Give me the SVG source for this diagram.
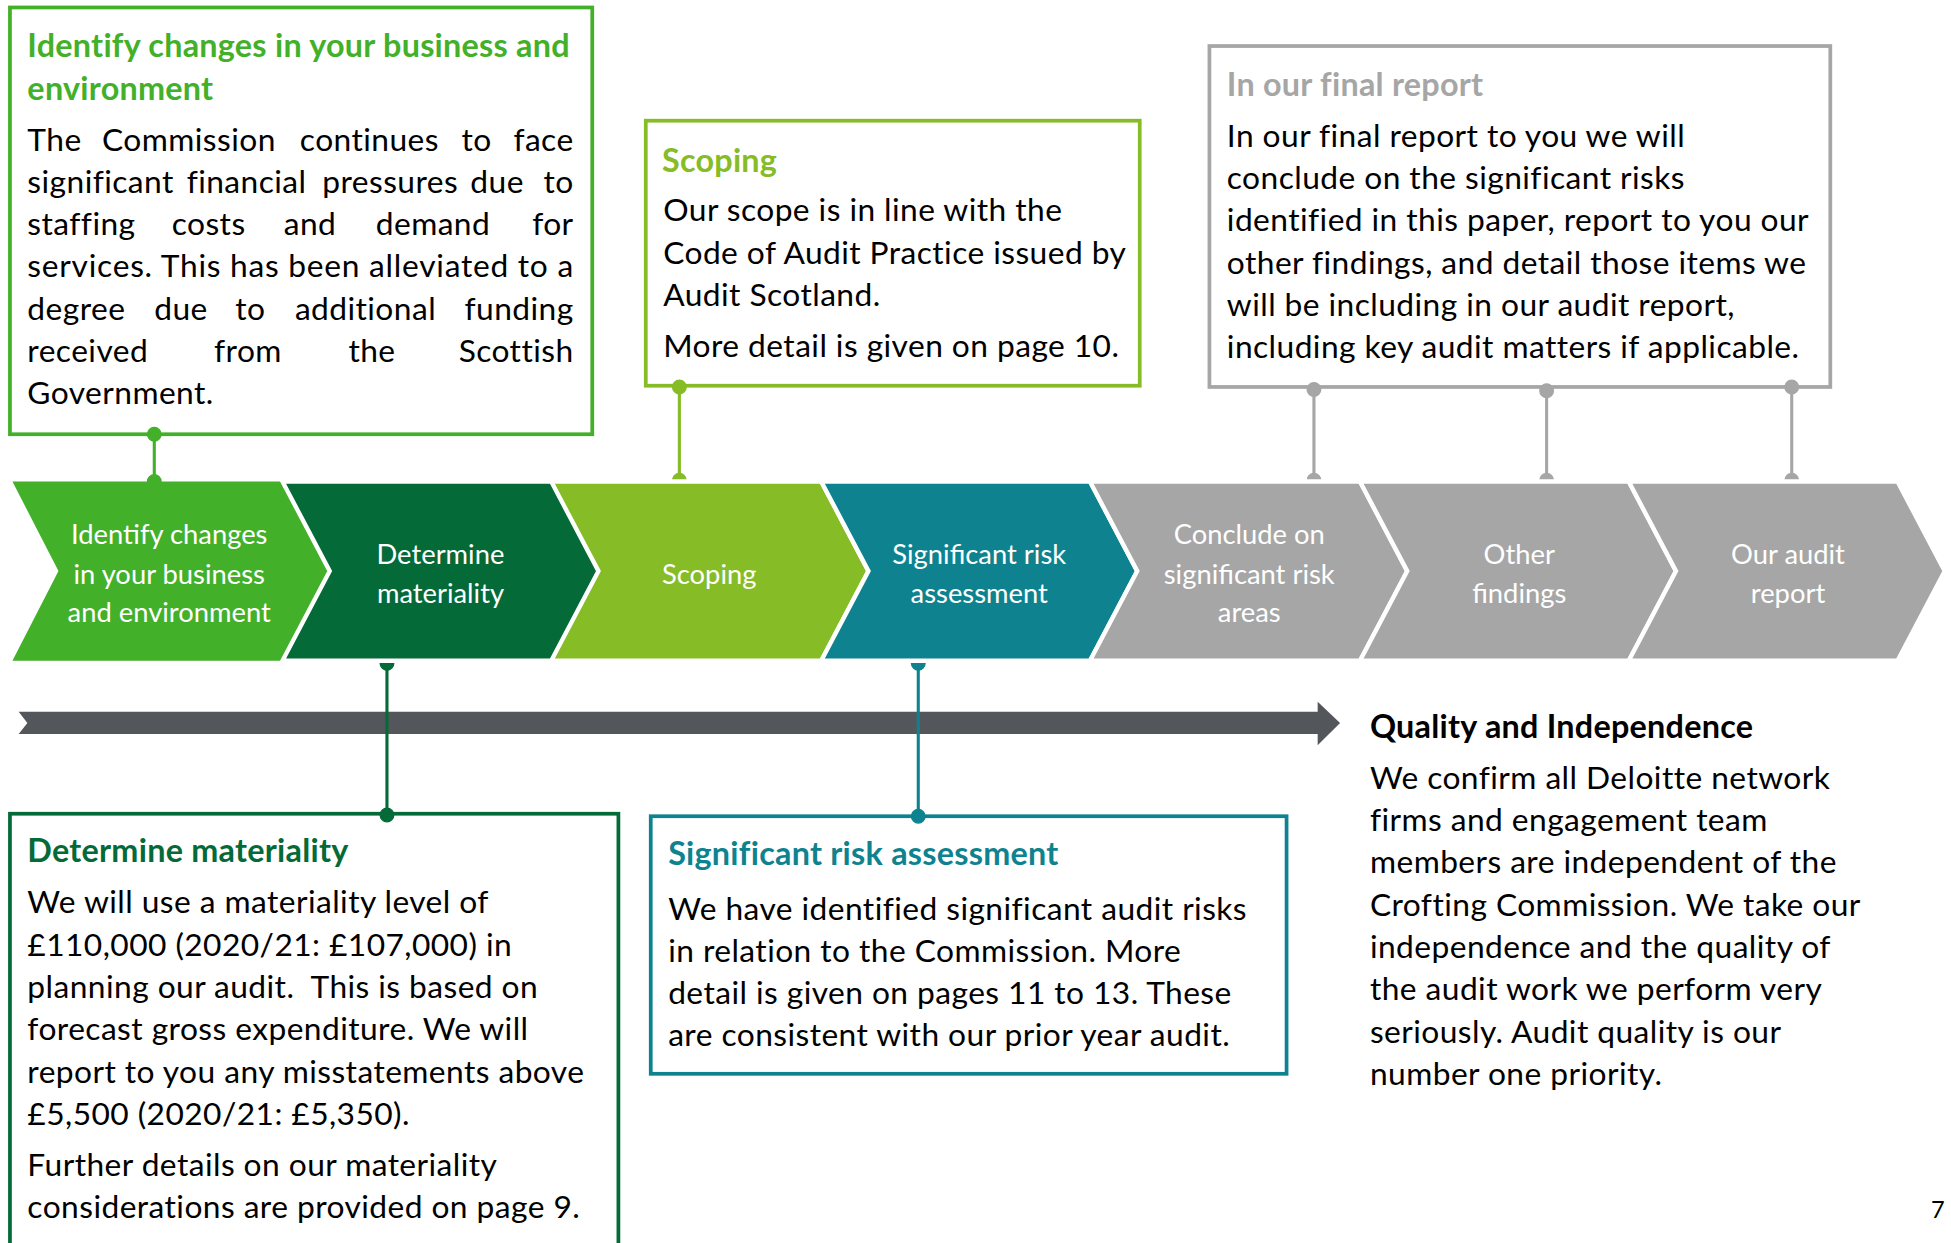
<svg xmlns="http://www.w3.org/2000/svg" width="1951" height="1243" viewBox="0 0 1951 1243">
<style>
text{font-family:Lato,"Liberation Sans",sans-serif;stroke:none}
.b{font-size:25.5px;letter-spacing:0.35px;fill:#000}
.h{font-size:26px;letter-spacing:0.2px;font-weight:bold}
.c{font-size:22px;fill:#fff;text-anchor:middle}
.e{text-anchor:end}
.box{fill:#fff;stroke-width:3}
.ln{stroke-width:2.5;fill:none}
</style>
<rect width="1951" height="1243" fill="#fff"/>
<g transform="scale(1.24426)">
<g id="timeline-arrow">
<polygon points="15,572 1059,572 1059,564 1077,581 1059,599 1059,590 15,590 22,581" fill="#53565A"/>
</g>
<g id="box-identify">
<rect class="box" x="8" y="6" width="468" height="343" stroke="#43B02A"/>
<text class="h" fill="#43B02A"><tspan x="22" y="46">Identify changes in your business and</tspan><tspan x="22" y="80">environment</tspan></text>
<text class="b" y="121"><tspan x="22">The</tspan><tspan x="82">Commission</tspan><tspan x="241">continues</tspan><tspan x="371">to</tspan><tspan x="461" class="e">face</tspan></text>
<text class="b" y="155"><tspan x="22">significant</tspan><tspan x="150">financial</tspan><tspan x="259">pressures</tspan><tspan x="378">due</tspan><tspan x="461" class="e">to</tspan></text>
<text class="b" y="189"><tspan x="22">staffing</tspan><tspan x="138">costs</tspan><tspan x="228">and</tspan><tspan x="302">demand</tspan><tspan x="461" class="e">for</tspan></text>
<text class="b" x="22" y="223" textLength="439" lengthAdjust="spacing">services. This has been alleviated to a</text>
<text class="b" y="257"><tspan x="22">degree</tspan><tspan x="124">due</tspan><tspan x="189">to</tspan><tspan x="237">additional</tspan><tspan x="461" class="e">funding</tspan></text>
<text class="b" y="291"><tspan x="22">received</tspan><tspan x="172">from</tspan><tspan x="280">the</tspan><tspan x="461" class="e">Scottish</tspan></text>
<text class="b" x="22" y="325">Government.</text>
</g>
<g id="box-scoping">
<rect class="box" x="519" y="97" width="397" height="213" stroke="#86BC25"/>
<text class="h" x="532" y="138" fill="#86BC25">Scoping</text>
<text class="b"><tspan x="533" y="178">Our scope is in line with the</tspan><tspan x="533" y="212">Code of Audit Practice issued by</tspan><tspan x="533" y="246">Audit Scotland.</tspan><tspan x="533" y="287">More detail is given on page 10.</tspan></text>
</g>
<g id="box-final-report">
<rect class="box" x="972" y="37" width="499" height="274" stroke="#A6A6A6"/>
<text class="h" x="986" y="77" fill="#A6A6A6">In our final report</text>
<text class="b"><tspan x="986" y="118">In our final report to you we will</tspan><tspan x="986" y="152">conclude on the significant risks</tspan><tspan x="986" y="186">identified in this paper, report to you our</tspan><tspan x="986" y="220">other findings, and detail those items we</tspan><tspan x="986" y="254">will be including in our audit report,</tspan><tspan x="986" y="288">including key audit matters if applicable.</tspan></text>
</g>
<g id="box-materiality">
<rect class="box" x="8" y="654" width="489" height="420" stroke="#046A38"/>
<text class="h" x="22" y="693" fill="#046A38">Determine materiality</text>
<text class="b"><tspan x="22" y="734">We will use a materiality level of</tspan><tspan x="22" y="768">£110,000 (2020/21: £107,000) in</tspan><tspan x="22" y="802">planning our audit.&#160; This is based on</tspan><tspan x="22" y="836">forecast gross expenditure. We will</tspan><tspan x="22" y="870">report to you any misstatements above</tspan><tspan x="22" y="904">£5,500 (2020/21: £5,350).</tspan><tspan x="22" y="945">Further details on our materiality</tspan><tspan x="22" y="979">considerations are provided on page 9.</tspan></text>
</g>
<g id="box-risk">
<rect class="box" x="523" y="656" width="511" height="207" stroke="#0E838F"/>
<text class="h" x="537" y="695" fill="#0E838F">Significant risk assessment</text>
<text class="b"><tspan x="537" y="739">We have identified significant audit risks</tspan><tspan x="537" y="773">in relation to the Commission. More</tspan><tspan x="537" y="807">detail is given on pages 11 to 13. These</tspan><tspan x="537" y="841">are consistent with our prior year audit.</tspan></text>
</g>
<g id="quality">
<text class="h" x="1101" y="593" fill="#000">Quality and Independence</text>
<text class="b"><tspan x="1101" y="634">We confirm all Deloitte network</tspan><tspan x="1101" y="668">firms and engagement team</tspan><tspan x="1101" y="702">members are independent of the</tspan><tspan x="1101" y="736">Crofting Commission. We take our</tspan><tspan x="1101" y="770">independence and the quality of</tspan><tspan x="1101" y="804">the audit work we perform very</tspan><tspan x="1101" y="838">seriously. Audit quality is our</tspan><tspan x="1101" y="872">number one priority.</tspan></text>
</g>
<g id="connectors">
<g stroke="#43B02A" fill="#43B02A"><line class="ln" x1="124" y1="349" x2="124" y2="388"/><circle cx="124" cy="349" r="5.5"/><circle cx="124" cy="387" r="5.5"/></g>
<g stroke="#86BC25" fill="#86BC25"><line class="ln" x1="546" y1="311" x2="546" y2="388"/><circle cx="546" cy="311" r="5.5"/><circle cx="546" cy="386" r="5.5"/></g>
<g stroke="#A6A6A6" fill="#A6A6A6"><line class="ln" x1="1056" y1="313" x2="1056" y2="388"/><circle cx="1056" cy="313" r="5.5"/><circle cx="1056" cy="386" r="5.5"/>
<line class="ln" x1="1243" y1="314" x2="1243" y2="388"/><circle cx="1243" cy="314" r="5.5"/><circle cx="1243" cy="386" r="5.5"/>
<line class="ln" x1="1440" y1="311" x2="1440" y2="388"/><circle cx="1440" cy="311" r="5.5"/><circle cx="1440" cy="386" r="5.5"/></g>
<g stroke="#046A38" fill="#046A38"><line class="ln" x1="311" y1="530" x2="311" y2="655"/><circle cx="311" cy="533" r="5.5"/><circle cx="311" cy="655" r="5.5"/></g>
<g stroke="#0E838F" fill="#0E838F"><line class="ln" x1="738" y1="530" x2="738" y2="656"/><circle cx="738" cy="533" r="5.5"/><circle cx="738" cy="656" r="5.5"/></g>
</g>
<g id="chevrons" stroke="#fff" stroke-width="3.5" stroke-linejoin="miter">
<g id="step1"><polygon points="10,387 228,387 266,459 228,531 10,531 47,459" fill="#43B02A" stroke="none"/><text class="c"><tspan x="136" y="437">Identify changes</tspan><tspan x="136" y="469">in your business</tspan><tspan x="136" y="500">and environment</tspan></text></g>
<g id="step2"><polygon points="227,387 444,387 482,459 444,531 227,531 265,459" fill="#046A38"/><text class="c"><tspan x="354" y="453">Determine</tspan><tspan x="354" y="485">materiality</tspan></text></g>
<g id="step3"><polygon points="443,387 660,387 698,459 660,531 443,531 481,459" fill="#86BC25"/><text class="c" x="570" y="469">Scoping</text></g>
<g id="step4"><polygon points="660,387 876,387 914,459 876,531 660,531 698,459" fill="#0E838F"/><text class="c"><tspan x="787" y="453">Significant risk</tspan><tspan x="787" y="485">assessment</tspan></text></g>
<g id="step5"><polygon points="876,387 1093,387 1131,459 1093,531 876,531 914,459" fill="#A6A6A6"/><text class="c"><tspan x="1004" y="437">Conclude on</tspan><tspan x="1004" y="469">significant risk</tspan><tspan x="1004" y="500">areas</tspan></text></g>
<g id="step6"><polygon points="1093,387 1309,387 1347,459 1309,531 1093,531 1131,459" fill="#A6A6A6"/><text class="c"><tspan x="1221" y="453">Other</tspan><tspan x="1221" y="485">findings</tspan></text></g>
<g id="step7"><polygon points="1309,387 1525,387 1563,459 1525,531 1309,531 1347,459" fill="#A6A6A6"/><text class="c"><tspan x="1437" y="453">Our audit</tspan><tspan x="1437" y="485">report</tspan></text></g>
</g>
<text x="1552" y="979" font-size="19" fill="#000">7</text>
</g>
</svg>
